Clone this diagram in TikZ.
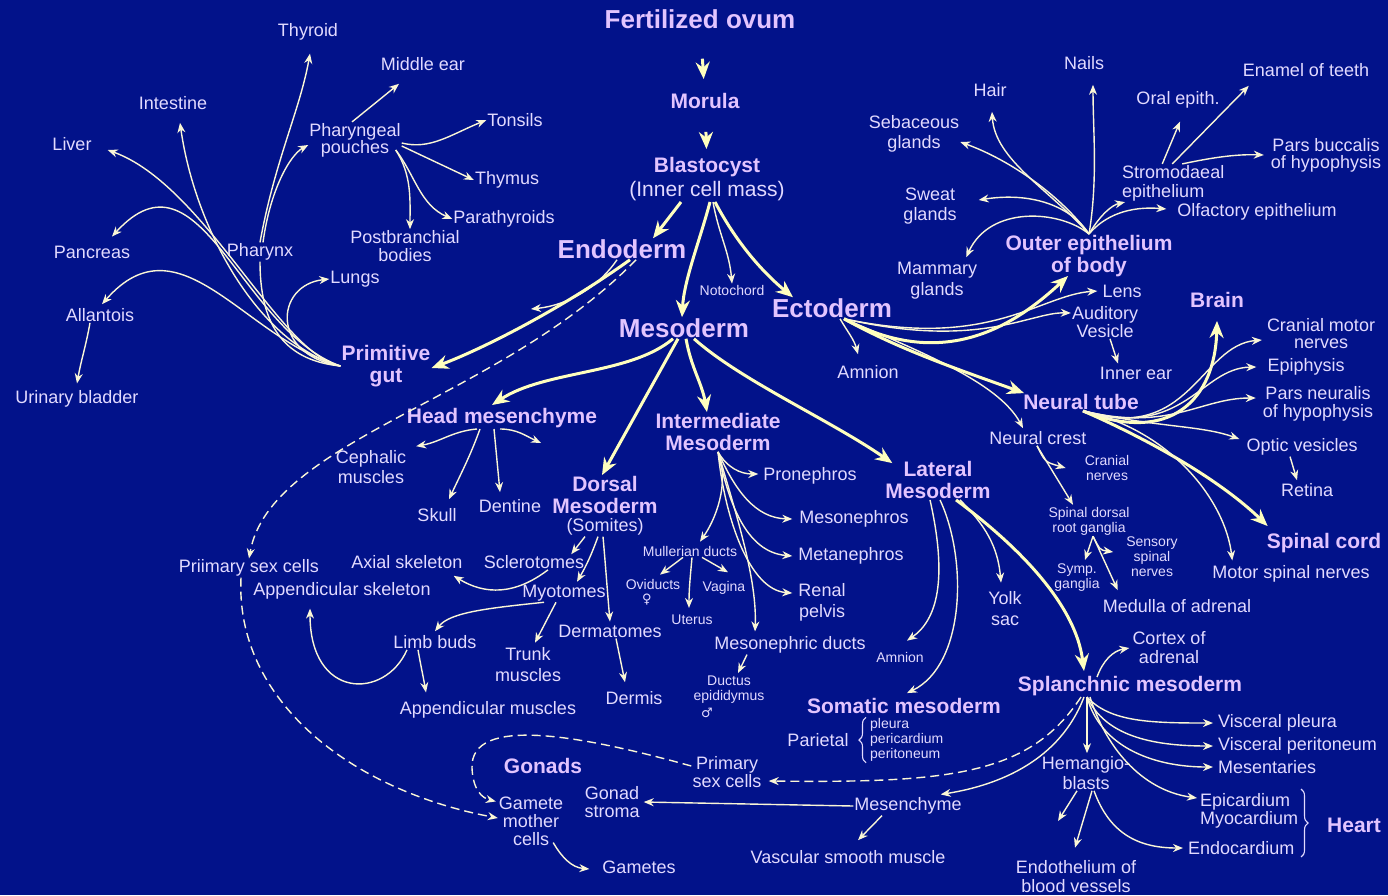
\documentclass[tikz,border=0pt]{standalone}
\usepackage{fontspec}
\setmainfont{Liberation Sans}
\newfontfamily\symfont{DejaVu Sans}
\usepackage{xcolor}
\usetikzlibrary{arrows.meta,decorations.pathreplacing}
\definecolor{bgcolor}{RGB}{2,18,138}
\definecolor{lblcolor}{RGB}{226,218,255}
\definecolor{hdrcolor}{RGB}{226,196,255}
\definecolor{linecolor}{RGB}{250,246,214}
\definecolor{thickcolor}{RGB}{255,255,190}

\begin{document}
\begin{tikzpicture}[
    x=1pt, y=1pt,
    lbl/.style={text=lblcolor, align=center, inner sep=1pt, font=\fontsize{18}{19}\selectfont},
    note/.style={text=lblcolor, align=center, inner sep=1pt, font=\fontsize{14}{15}\selectfont},
    hdr/.style={text=hdrcolor, align=center, inner sep=1pt, font=\bfseries\fontsize{21}{22}\selectfont},
    germ/.style={text=hdrcolor, inner sep=1pt, font=\bfseries\fontsize{26}{28}\selectfont},
    sym/.style={text=lblcolor, inner sep=0pt, font=\symfont\fontsize{13}{13}\selectfont},
    arrow/.style={draw=linecolor, line width=1.4pt, -{Stealth[length=10pt,width=8pt]}},
    bigarrow/.style={draw=thickcolor, line width=3pt, -{Stealth[length=17pt,width=14pt]}},
    dasharrow/.style={arrow, dash pattern=on 9pt off 5pt},
    link/.style={draw=linecolor, line width=1.4pt},
    curly/.style={draw=lblcolor, line width=1.1pt, decorate, decoration={brace, amplitude=7pt}}
]
\fill[bgcolor] (0,0) rectangle (1388,-895);
\useasboundingbox (0,0) rectangle (1388,-895);

% main line
\node[germ] (ovum) at (700,-19) {Fertilized ovum};
\node[hdr] (morula) at (705,-101) {Morula};
\node[hdr] (blast) at (707,-167) {Blastocyst};
\node[lbl, font=\fontsize{21}{22}\selectfont] (icm) at (707,-191) {(Inner cell mass)};
\node[germ] (endo) at (622,-249) {Endoderm};
\node[germ] (meso) at (684,-328) {Mesoderm};
\node[germ] (ecto) at (832,-308) {Ectoderm};
\node[note] (noto) at (732,-290) {Notochord};

% endoderm side
\node[hdr] (gut) at (386,-366) {Primitive\\gut};
\node[lbl] (thyroid) at (308,-32) {Thyroid};
\node[lbl] (mear) at (423,-64) {Middle ear};
\node[lbl] (intestine) at (173,-103) {Intestine};
\node[lbl] (liver) at (72,-144) {Liver};
\node[lbl, font=\fontsize{18}{17}\selectfont] (pouches) at (355,-140) {Pharyngeal\\pouches};
\node[lbl] (tonsils) at (515,-120) {Tonsils};
\node[lbl] (thymus) at (507,-180) {Thymus};
\node[lbl] (parath) at (504,-219) {Parathyroids};
\node[lbl, font=\fontsize{18}{18}\selectfont] (postb) at (405,-246) {Postbranchial\\bodies};
\node[lbl] (pancreas) at (92,-252) {Pancreas};
\node[lbl] (pharynx) at (260,-252) {Pharynx};
\node[lbl] (lungs) at (355,-279) {Lungs};
\node[lbl] (allantois) at (100,-315) {Allantois};
\node[lbl] (bladder) at (77,-399) {Urinary bladder};
\coordinate (endofree) at (531,-309);

% mesoderm side
\node[hdr] (head) at (502,-418) {Head mesenchyme};
\node[lbl, font=\fontsize{18}{20}\selectfont] (ceph) at (371,-467) {Cephalic\\muscles};
\node[lbl] (skull) at (437,-515) {Skull};
\node[lbl] (dentine) at (510,-506) {Dentine};
\coordinate (headfree) at (541,-443);
\node[hdr] (dorsal) at (605,-495) {Dorsal\\Mesoderm};
\node[lbl] (somites) at (605,-527) {(Somites)};
\node[hdr] (inter) at (718,-432) {Intermediate\\Mesoderm};
\node[hdr] (lat) at (938,-480) {Lateral\\Mesoderm};
\node[lbl] (scler) at (534,-562) {Sclerotomes};
\node[lbl] (axial) at (407,-562) {Axial skeleton};
\node[lbl] (myo) at (564,-593) {Myotomes};
\node[lbl] (dermat) at (610,-631) {Dermatomes};
\node[lbl] (limb) at (435,-642) {Limb buds};
\node[lbl, font=\fontsize{18}{21}\selectfont] (trunk) at (528,-665) {Trunk\\muscles};
\node[lbl] (dermis) at (634,-698) {Dermis};
\node[lbl] (appmus) at (488,-710) {Appendicular muscles};
\node[lbl] (appskel) at (342,-591) {Appendicular skeleton};
\node[lbl] (psc1) at (249,-568) {Priimary sex cells};
\node[lbl] (proneph) at (810,-476) {Pronephros};
\node[lbl] (mesoneph) at (854,-519) {Mesonephros};
\node[lbl] (metaneph) at (851,-556) {Metanephros};
\node[lbl, font=\fontsize{18}{21}\selectfont] (renal) at (822,-602) {Renal\\pelvis};
\node[note] (mull) at (690,-551) {Mullerian ducts};
\node[note] (ovi) at (653,-584) {Oviducts};
\node[note] (vagina) at (724,-588) {Vagina};
\node[note] (uterus) at (692,-620) {Uterus};
\node[sym] (female) at (647,-600) {♀};
\node[lbl] (mduct) at (790,-645) {Mesonephric ducts};
\node[note] (ductus) at (729,-690) {Ductus\\epididymus};
\node[sym] (male) at (707,-713) {♂};
\node[note] (amn2) at (900,-657) {Amnion};
\node[hdr] (soma) at (904,-706) {Somatic mesoderm};
\node[lbl] (pariet) at (818,-740) {Parietal};
\node[note, align=left, anchor=west] (serosa) at (869,-740) {pleura\\pericardium\\peritoneum};
\node[lbl, font=\fontsize{18}{21}\selectfont] (yolk) at (1005,-609) {Yolk\\sac};
\node[hdr] (spl) at (1130,-686) {Splanchnic mesoderm};
\node[lbl] (cortex) at (1169,-648) {Cortex of\\adrenal};
\node[lbl, anchor=west] (vpleura) at (1217,-723) {Visceral pleura};
\node[lbl, anchor=west] (vperit) at (1217,-746) {Visceral peritoneum};
\node[lbl, anchor=west] (mesent) at (1217,-767) {Mesentaries};
\node[lbl, anchor=west] (epic) at (1199,-802) {Epicardium};
\node[lbl, anchor=west] (myoc) at (1199,-820) {Myocardium};
\node[lbl, anchor=west] (endoc) at (1187,-848) {Endocardium};
\node[hdr] (heart) at (1354,-825) {Heart};
\node[lbl, font=\fontsize{18}{20}\selectfont] (hema) at (1086,-773) {Hemangio-\\blasts};
\coordinate (hemafree) at (1058,-821);
\node[lbl] (endoth) at (1076,-877) {Endothelium of\\blood vessels};
\node[lbl] (mes) at (908,-806) {Mesenchyme};
\node[lbl] (vasc) at (848,-857) {Vascular smooth muscle};
\node[lbl, font=\fontsize{18}{18}\selectfont] (psc2) at (727,-772) {Primary\\sex cells};
\node[lbl, font=\fontsize{18}{18}\selectfont] (stroma) at (612,-802) {Gonad\\stroma};
\node[hdr] (gonads) at (543,-766) {Gonads};
\node[lbl, font=\fontsize{18}{18}\selectfont] (gamete) at (531,-821) {Gamete\\mother\\cells};
\node[lbl] (gametes) at (639,-867) {Gametes};

% ectoderm side
\node[lbl] (amn1) at (868,-372) {Amnion};
\node[hdr] (outer) at (1089,-256) {Outer epithelium\\of body};
\node[lbl] (hair) at (990,-90) {Hair};
\node[lbl] (nails) at (1084,-63) {Nails};
\node[lbl, font=\fontsize{18}{20}\selectfont] (sebac) at (914,-134) {Sebaceous\\glands};
\node[lbl, font=\fontsize{18}{20}\selectfont] (sweat) at (930,-206) {Sweat\\glands};
\node[lbl, font=\fontsize{18}{21}\selectfont] (mamm) at (937,-281) {Mammary\\glands};
\node[lbl, align=left, anchor=west] (strom) at (1121,-183) {Stromodaeal\\epithelium};
\node[lbl] (olf) at (1257,-212) {Olfactory epithelium};
\node[lbl] (oral) at (1178,-100) {Oral epith.};
\node[lbl] (enamel) at (1306,-70) {Enamel of teeth};
\node[lbl, font=\fontsize{18}{17}\selectfont] (buccal) at (1326,-155) {Pars buccalis\\of hypophysis};
\node[lbl] (lens) at (1122,-291) {Lens};
\node[lbl, font=\fontsize{18}{18}\selectfont] (aud) at (1105,-322) {Auditory\\Vesicle};
\node[lbl] (inner) at (1136,-373) {Inner ear};
\node[hdr] (ntube) at (1081,-402) {Neural tube};
\node[hdr] (brain) at (1217,-300) {Brain};
\node[lbl, font=\fontsize{18}{17}\selectfont] (cmotor) at (1321,-334) {Cranial motor\\nerves};
\node[lbl] (epi) at (1306,-367) {Epiphysis};
\node[lbl, font=\fontsize{18}{18}\selectfont] (pneur) at (1318,-404) {Pars neuralis\\of hypophysis};
\node[lbl] (optic) at (1302,-447) {Optic vesicles};
\node[lbl] (retina) at (1307,-490) {Retina};
\node[hdr] (scord) at (1324,-543) {Spinal cord};
\node[lbl] (mspinal) at (1291,-574) {Motor spinal nerves};
\node[lbl] (ncrest) at (1038,-438) {Neural crest};
\node[note] (cranN) at (1107,-468) {Cranial\\nerves};
\node[note] (sdrg) at (1089,-521) {Spinal dorsal\\root ganglia};
\node[note] (symp) at (1077,-578) {Symp.\\ganglia};
\node[note] (sens) at (1152,-557) {Sensory\\spinal\\nerves};
\node[lbl] (medul) at (1177,-606) {Medulla of adrenal};

% main line arrows
\draw[bigarrow, shorten <=29pt, shorten >=13pt] (ovum) -- (morula);
\draw[bigarrow, shorten <=22pt, shorten >=7pt] (morula) -- (blast);
\draw[bigarrow] ([xshift=-26pt]icm.south) -- ([xshift=31pt]endo.north);
\draw[bigarrow] ([xshift=3pt]icm.south) .. controls (700,-240) and (684,-280) .. ([xshift=-2pt]meso.north);
\draw[arrow] ([xshift=6pt]icm.south) to[out=-80,in=95] (noto.north);
\draw[bigarrow] ([xshift=8pt]icm.south) .. controls (735,-240) and (760,-270) .. ([xshift=-39pt]ecto.north);

% endoderm arrows
\draw[arrow] ([xshift=-5pt]endo.south) .. controls (600,-285) and (570,-305) .. (endofree);
\draw[dasharrow] ([xshift=14pt]endo.south) .. controls (500,-400) and (270,-440) .. (psc1.north);
\draw[bigarrow] ([xshift=8pt]endo.south) .. controls (560,-310) and (480,-350) .. ([yshift=-2pt]gut.east);
\draw[arrow] (gut.west) .. controls (280,-355) and (205,-185) .. ([xshift=15pt,yshift=-6pt]liver.east);
\draw[arrow] (gut.west) .. controls (260,-345) and (195,-230) .. ([xshift=7pt,yshift=-12pt]intestine.south);
\draw[arrow] (gut.west) .. controls (240,-330) and (200,-140) .. ([xshift=20pt,yshift=8pt]pancreas.north);
\draw[arrow] (gut.west) .. controls (245,-340) and (180,-215) .. ([xshift=2pt,yshift=3pt]allantois.north);
\draw[link] (gut.west) .. controls (280,-360) and (260,-320) .. (pharynx.south);
\draw[arrow] (gut.west) .. controls (270,-355) and (275,-285) .. (lungs.west);
\draw[arrow] (pharynx.north) .. controls (275,-160) and (300,-110) .. ([xshift=2pt,yshift=-12pt]thyroid.south);
\draw[arrow] ([xshift=3pt]pharynx.north) .. controls (270,-190) and (290,-155) .. ([yshift=-5pt]pouches.west);
\draw[arrow] ([xshift=-3pt]pouches.north) -- ([xshift=-24pt,yshift=-12pt]mear.south);
\draw[arrow] ([yshift=-3pt]pouches.east) .. controls (430,-150) and (450,-135) .. (tonsils.west);
\draw[arrow] ([yshift=-6pt]pouches.east) -- (thymus.west);
\draw[arrow] ([xshift=-6pt,yshift=-10pt]pouches.east) .. controls (415,-175) and (420,-205) .. (parath.west);
\draw[arrow] ([xshift=-6pt,yshift=-10pt]pouches.east) .. controls (412,-175) and (410,-200) .. ([xshift=5pt]postb.north);
\draw[arrow] ([xshift=-10pt]allantois.south) to[out=-100,in=80] ([yshift=6pt]bladder.north);

% mesoderm arrows
\draw[bigarrow] ([xshift=-11pt]meso.south) .. controls (630,-375) and (545,-370) .. ([xshift=-10pt,yshift=2pt]head.north);
\draw[bigarrow] ([xshift=-6pt]meso.south) -- ([xshift=-3pt]dorsal.north);
\draw[bigarrow] ([xshift=2pt]meso.south) to[out=-80,in=100] ([xshift=-11pt]inter.north);
\draw[bigarrow] ([xshift=10pt]meso.south) .. controls (740,-380) and (830,-420) .. ([xshift=8pt,yshift=-3pt]lat.north west);
\draw[arrow] ([xshift=-25pt]head.south) to[out=185,in=10] ([xshift=9pt,yshift=3pt]ceph.north east);
\draw[arrow] ([xshift=-22pt]head.south) to[out=-110,in=65] ([xshift=12pt,yshift=8pt]skull.north);
\draw[arrow] ([xshift=-8pt]head.south) -- ([xshift=-10pt,yshift=6pt]dentine.north);
\draw[arrow] ([xshift=-2pt]head.south) to[out=0,in=155] (headfree);
\draw[arrow] ([xshift=-20pt]somites.south) -- ([xshift=-14pt]scler.north east);
\draw[arrow] ([xshift=-7pt]somites.south) to[out=-110,in=60] ([xshift=13pt,yshift=2pt]myo.north);
\draw[arrow] ([xshift=-2pt]somites.south) to[out=-85,in=95] ([yshift=2pt]dermat.north);
\draw[arrow] ([xshift=14pt]scler.south) .. controls (515,-595) and (485,-595) .. ([xshift=-10pt,yshift=-6pt]axial.south east);
\draw[arrow] ([xshift=-20pt]myo.south) .. controls (490,-608) and (450,-612) .. ([yshift=3pt]limb.north);
\draw[arrow] ([xshift=-8pt]myo.south) -- ([xshift=7pt,yshift=4pt]trunk.north);
\draw[arrow] ([xshift=6pt]dermat.south) -- ([xshift=-9pt,yshift=8pt]dermis.north);
\draw[arrow] ([xshift=-28pt]limb.south) .. controls (385,-700) and (310,-700) .. ([xshift=-32pt,yshift=-8pt]appskel.south);
\draw[arrow] ([xshift=-17pt]limb.south) to[out=-80,in=100] ([xshift=-62pt,yshift=8pt]appmus.north);
\draw[arrow] (inter.south) to[out=-60,in=180] ([xshift=-4pt,yshift=2pt]proneph.west);
\draw[arrow] (inter.south) .. controls (735,-490) and (755,-518) .. ([xshift=-6pt]mesoneph.west);
\draw[arrow] (inter.south) .. controls (728,-500) and (745,-552) .. ([xshift=-5pt]metaneph.west);
\draw[arrow] (inter.south) .. controls (725,-520) and (750,-590) .. ([xshift=-5pt,yshift=9pt]renal.west);
\draw[arrow] (inter.south) .. controls (738,-520) and (757,-580) .. ([xshift=-35pt,yshift=4pt]mduct.north);
\draw[arrow] (inter.south) .. controls (730,-485) and (715,-520) .. ([xshift=10pt,yshift=3pt]mull.north);
\draw[arrow] ([xshift=-7pt]mull.south) -- ([xshift=7pt,yshift=3pt]ovi.north);
\draw[arrow] ([xshift=2pt]mull.south) to[out=-95,in=90] ([xshift=-3pt,yshift=6pt]uterus.north);
\draw[arrow] ([xshift=12pt]mull.south) -- ([xshift=4pt,yshift=8pt]vagina.north);
\draw[arrow] ([xshift=-43pt]mduct.south) -- ([xshift=9pt,yshift=2pt]ductus.north);
\draw[arrow] ([xshift=-8pt]lat.south) .. controls (948,-580) and (937,-620) .. ([xshift=7pt,yshift=10pt]amn2.north);
\draw[arrow] ([xshift=2pt]lat.south) .. controls (968,-560) and (965,-665) .. ([xshift=3pt,yshift=4pt]soma.north);
\draw[arrow] ([xshift=22pt]lat.south) to[out=-45,in=95] ([xshift=-4pt,yshift=8pt]yolk.north);
\draw[bigarrow] ([xshift=18pt]lat.south) .. controls (1010,-540) and (1075,-600) .. ([xshift=-46pt,yshift=4pt]spl.north);
\draw[curly] ([xshift=-3pt]serosa.south west) -- ([xshift=-3pt]serosa.north west);
\draw[arrow] ([xshift=-33pt,yshift=-2pt]spl.north) to[out=70,in=190] ([xshift=-2pt]cortex.west);
\draw[arrow] ([xshift=-43pt]spl.south) .. controls (1110,-722) and (1150,-723) .. ([xshift=-4pt]vpleura.west);
\draw[arrow] ([xshift=-43pt]spl.south) .. controls (1105,-735) and (1150,-746) .. ([xshift=-4pt]vperit.west);
\draw[arrow] ([xshift=-43pt]spl.south) .. controls (1100,-745) and (1150,-767) .. ([xshift=-4pt]mesent.west);
\draw[arrow] ([xshift=-40pt]spl.south) .. controls (1105,-745) and (1140,-790) .. ([xshift=-2pt,yshift=4pt]epic.west);
\draw[arrow] ([xshift=-43pt]spl.south) -- ([xshift=1pt,yshift=2pt]hema.north);
\draw[arrow] ([xshift=-46pt]spl.south) .. controls (1060,-760) and (1000,-785) .. ([xshift=-22pt,yshift=2pt]mes.north east);
\draw[dasharrow] ([xshift=-49pt]spl.south) .. controls (1030,-775) and (950,-783) .. ([xshift=6pt,yshift=-9pt]psc2.east);
\draw[arrow] ([xshift=-9pt]hema.south) -- (hemafree);
\draw[arrow] ([xshift=6pt]hema.south) -- ([xshift=-1pt,yshift=12pt]endoth.north);
\draw[arrow] ([xshift=8pt]hema.south) .. controls (1110,-835) and (1140,-848) .. ([xshift=-4pt]endoc.west);
\draw[curly] (1301,-789) -- (1301,-857);
\draw[arrow] (mes.west) -- ([xshift=3pt]stroma.east);
\draw[arrow] ([xshift=-26pt]mes.south) -- ([xshift=10pt,yshift=9pt]vasc.north);
\draw[dasharrow] ([xshift=-8pt]psc1.south) .. controls (235,-700) and (350,-790) .. ([yshift=3pt]gamete.west);
\draw[dasharrow] ([yshift=6pt]psc2.west) .. controls (580,-735) and (470,-715) .. (472,-768) .. controls (473,-790) and (482,-798) .. ([xshift=-2pt,yshift=-6pt]gamete.north west);
\draw[arrow] ([xshift=-11pt,yshift=4pt]gamete.south east) to[out=-60,in=175] ([xshift=-12pt,yshift=-2pt]gametes.west);

% ectoderm arrows
\draw[arrow] ([xshift=8pt]ecto.south) to[out=-60,in=105] ([xshift=-10pt,yshift=10pt]amn1.north);
\draw[arrow] ([xshift=12pt]ecto.south) .. controls (990,-350) and (1040,-295) .. ([xshift=-4pt]lens.west);
\draw[arrow] ([xshift=12pt]ecto.south) .. controls (980,-350) and (1030,-312) .. ([yshift=9pt]aud.west);
\draw[arrow] ([xshift=12pt]ecto.south) .. controls (930,-355) and (1000,-385) .. ([xshift=-15pt,yshift=2pt]ncrest.north);
\draw[bigarrow] ([xshift=12pt]ecto.south) .. controls (940,-370) and (1010,-330) .. ([xshift=-21pt,yshift=2pt]outer.south);
\draw[bigarrow] ([xshift=12pt]ecto.south) .. controls (900,-350) and (960,-370) .. ([xshift=2pt]ntube.north west);
\draw[arrow] ([xshift=5pt]aud.south) -- ([xshift=-18pt,yshift=2pt]inner.north);
\draw[arrow] (outer.north) .. controls (1050,-190) and (995,-160) .. ([xshift=2pt,yshift=-14pt]hair.south);
\draw[arrow] (outer.north) .. controls (1098,-180) and (1093,-130) .. ([xshift=9pt,yshift=-14pt]nails.south);
\draw[arrow] (outer.north) .. controls (1060,-195) and (1010,-160) .. ([yshift=-8pt]sebac.east);
\draw[arrow] (outer.north) .. controls (1070,-205) and (1030,-192) .. ([xshift=21pt,yshift=6pt]sweat.east);
\draw[arrow] (outer.north) .. controls (1060,-210) and (990,-205) .. ([xshift=-12pt,yshift=4pt]mamm.north east);
\draw[arrow] (outer.north) .. controls (1100,-215) and (1112,-205) .. ([xshift=4pt]strom.south west);
\draw[arrow] (outer.north) .. controls (1105,-215) and (1130,-206) .. ([xshift=-10pt,yshift=3pt]olf.west);
\draw[arrow] ([xshift=-11pt]strom.north) -- ([xshift=2pt,yshift=-12pt]oral.south);
\draw[arrow] ([xshift=-1pt]strom.north) -- ([xshift=7pt,yshift=-8pt]enamel.south west);
\draw[arrow] ([xshift=9pt]strom.north) .. controls (1210,-158) and (1235,-154) .. ([xshift=-6pt]buccal.west);
\draw[bigarrow] ([xshift=2pt]ntube.south) .. controls (1170,-445) and (1215,-400) .. ([yshift=-12pt]brain.south);
\draw[bigarrow] ([xshift=2pt]ntube.south) .. controls (1150,-440) and (1220,-480) .. ([xshift=2pt,yshift=6pt]scord.north west);
\draw[arrow] ([xshift=2pt]ntube.south) .. controls (1190,-445) and (1200,-345) .. ([xshift=-4pt,yshift=-6pt]cmotor.west);
\draw[arrow] ([xshift=2pt]ntube.south) .. controls (1185,-440) and (1200,-368) .. ([xshift=-10pt]epi.west);
\draw[arrow] ([xshift=2pt]ntube.south) .. controls (1170,-432) and (1200,-398) .. ([xshift=-6pt,yshift=6pt]pneur.west);
\draw[arrow] ([xshift=2pt]ntube.south) .. controls (1160,-428) and (1200,-425) .. ([xshift=-6pt,yshift=8pt]optic.west);
\draw[arrow] ([xshift=2pt]ntube.south) .. controls (1170,-430) and (1225,-500) .. ([xshift=21pt,yshift=4pt]mspinal.north west);
\draw[arrow] ([xshift=-12pt]optic.south) -- ([xshift=-10pt,yshift=2pt]retina.north);
\draw[arrow] ([xshift=-1pt]ncrest.south) .. controls (1045,-462) .. ([xshift=-18pt]cranN.west);
\draw[arrow] ([xshift=-1pt]ncrest.south) -- ([xshift=-16pt,yshift=1pt]sdrg.north);
\draw[arrow] ([xshift=4pt]sdrg.south) -- ([xshift=8pt,yshift=3pt]symp.north);
\draw[arrow] ([xshift=4pt]sdrg.south) .. controls (1100,-550) .. ([xshift=-12pt,yshift=5pt]sens.west);
\draw[arrow] ([xshift=4pt]sdrg.south) -- ([xshift=16pt,yshift=8pt]medul.north west);
\end{tikzpicture}
\end{document}
